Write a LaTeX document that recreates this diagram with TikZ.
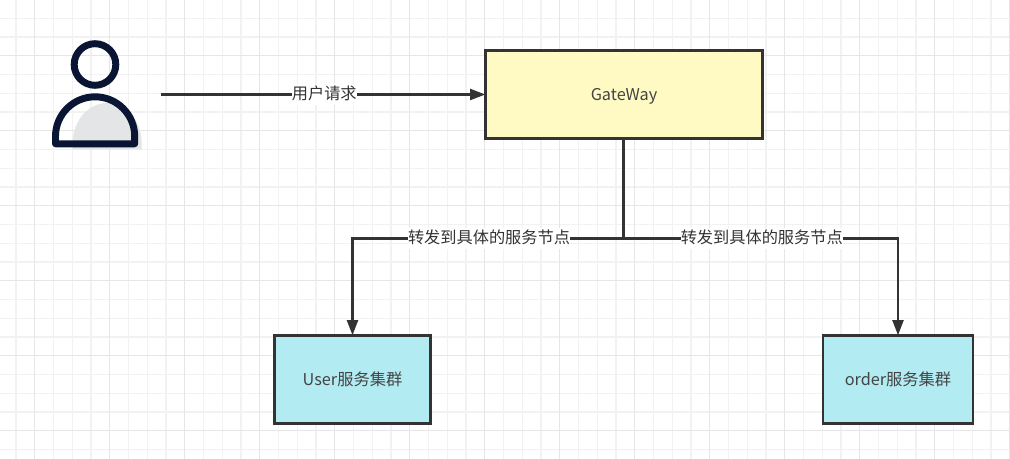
\documentclass[tikz,border=0pt]{standalone}
\usepackage{fontspec}
\setmainfont{Noto Sans CJK SC}
\usetikzlibrary{arrows.meta}
\definecolor{gridminor}{HTML}{F2F2F2}
\definecolor{gridmajor}{HTML}{E6E6E6}
\definecolor{ink}{HTML}{333333}
\definecolor{boxtext}{HTML}{444444}
\definecolor{yellowfill}{HTML}{FFF9C4}
\definecolor{cyanfill}{HTML}{B2EBF2}
\definecolor{navy}{HTML}{0A1433}
\definecolor{iconshade}{HTML}{E4E5E7}
\tikzset{
  box/.style={draw=ink,line width=2.1pt,line join=miter,anchor=north west,inner sep=0pt,outer sep=0pt,
    font=\fontsize{12.2}{14}\selectfont,text=boxtext,text height=10pt,text depth=1.2pt},
  conn/.style={draw=ink,line width=2.2pt,-{Triangle[length=11.5pt,width=8pt]}},
  plain/.style={draw=ink,line width=2.2pt},
  lab/.style={fill=white,inner sep=0pt,xshift=0.75pt,text=ink,font=\fontsize{12.15}{16.5}\selectfont,text height=11.6pt,text depth=4.4pt},
  minorline/.style={draw=gridminor,line width=1pt},
  majorline/.style={draw=gridmajor,line width=1.1pt},
}
\begin{document}
\begin{tikzpicture}[x=0.75pt,y=-0.75pt]
\useasboundingbox (0,0) rectangle (1010,459);
\fill[white] (0,0) rectangle (1010,459);
% grid
\foreach \k in {0,...,53}{\draw[minorline] ({16+18.75*\k},0) -- ({16+18.75*\k},459);}
\foreach \k in {0,...,24}{\draw[minorline] (0,{18.2+18.75*\k}) -- (1010,{18.2+18.75*\k});}
\foreach \k in {0,...,13}{\draw[majorline] ({34.7+75*\k},0) -- ({34.7+75*\k},459);}
\foreach \k in {0,...,5}{\draw[majorline] (0,{55.7+75*\k}) -- (1010,{55.7+75*\k});}
% person icon
\fill[iconshade] (72.7,149.3) -- (72.7,143) arc[start angle=180,end angle=270,x radius=34.5,y radius=40]
  arc[start angle=270,end angle=360,x radius=34.5,y radius=40] -- (141.7,149.3) -- cycle;
\draw[navy,line width=5.2pt] (95,64.5) circle[radius=20.8];
\draw[navy,line width=5.2pt,line join=round] (55.5,143.8) -- (55.5,136.4) arc[start angle=180,end angle=360,radius=39.6] -- (134.7,143.8) -- cycle;
% nodes
\coordinate (start) at (161,94.5);
\coordinate (hub) at (623.5,238.5);
\node[box,fill=yellowfill,minimum width=207.75pt,minimum height=66pt] (gate) at (485.5,50.5) {GateWay};
\node[box,fill=cyanfill,minimum width=117pt,minimum height=66pt] (user) at (274.5,335.5) {User服务集群};
\node[box,fill=cyanfill,minimum width=112.5pt,minimum height=66pt] (order) at (823,335.5) {order服务集群};
% connectors
\draw[conn] (start) -- node[lab,pos=.5]{用户请求} (gate.west);
\draw[plain] (hub |- gate.south) -- (hub);
\draw[conn] (hub) -| node[lab,pos=.25]{转发到具体的服务节点} (user.north);
\draw[conn] (hub) -| node[lab,pos=.25]{转发到具体的服务节点} (order.north);
\end{tikzpicture}
\end{document}
